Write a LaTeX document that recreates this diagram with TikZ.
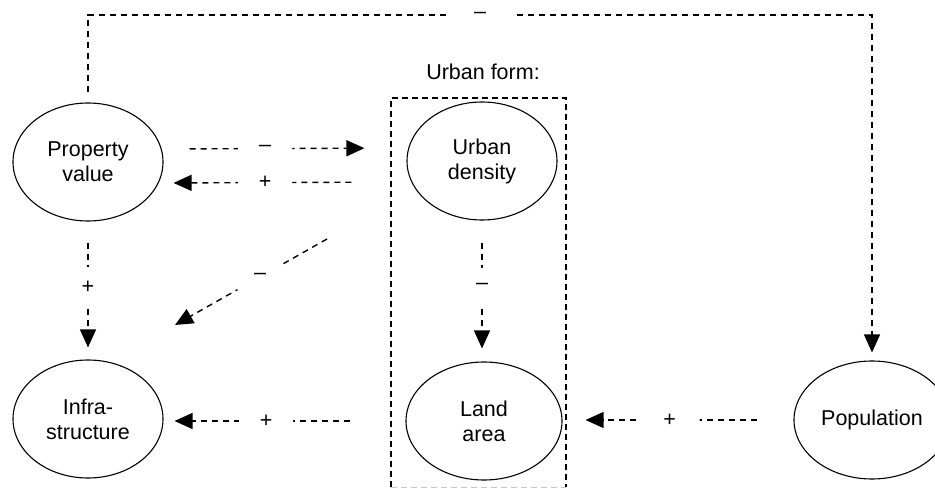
\documentclass[tikz,border=0pt]{standalone}
\usepackage{fontspec}
\setmainfont{Liberation Sans}
\usetikzlibrary{shapes.geometric,arrows.meta}
\begin{document}
\begin{tikzpicture}[x=1pt,y=-1pt,
  every node/.style={font=\fontsize{21.5}{25}\selectfont},
  blob/.style={ellipse, draw, line width=1.1pt, minimum width=150pt, minimum height=118pt, inner sep=0pt, align=center},
  dl/.style={line width=1.4pt, dash pattern=on 6pt off 5pt},
  arr/.style={dl, -{Triangle[length=18pt,width=16pt]}},
  gap/.style={circle, fill=white, inner sep=0pt, minimum size=#1},
  gap/.default=54pt,
  framedash/.style={line width=1.2pt, dash pattern=on 6pt off 4pt}]
\useasboundingbox (0,0) rectangle (935,489);
% nodes
\node[blob] (pv) at (88,162) {Property\\value};
\node[blob] (ud) at (482,161) {Urban\\density};
\node[blob] (inf) at (88,419) {Infra-\\structure};
\node[blob, minimum width=156pt] (la) at (484,421) {Land\\area};
\node[blob, minimum width=156pt] (pop) at (872,420) {Population};
\node (uf) at (483,72) {Urban form:};
% urban form frame
\draw[framedash] (391,487) -- (391,98) -- (566,98) -- (566,487);
\draw[framedash, gray!45, line width=0.8pt] (391,487) -- (566,487);
% top feedback line
\coordinate (topy) at (0,15);
\draw[arr, shorten <=10pt, shorten >=8pt] (pv.north) -- (pv.north |- topy) -- node[gap=66pt]{–} (pop.north |- topy) -- (pop.north);
% property value <-> urban density
\draw[arr, shorten <=26pt, shorten >=42pt] ([yshift=13pt]pv.east) -- node[gap, pos=0.418]{–} ([yshift=13pt]ud.west);
\draw[arr, shorten <=55pt, shorten >=10pt] ([yshift=-21pt]ud.west) -- node[gap, pos=0.582]{+} ([yshift=-21pt]pv.east);
% diagonal
\coordinate (dA) at (327,239);
\coordinate (dB) at (175,325);
\draw[arr] (dA) -- node[gap=52pt, pos=0.44]{–} (dB);
% verticals
\draw[arr, shorten <=21pt, shorten >=12pt] (pv.south) -- node[gap=40pt, pos=0.475]{+} (pv.south |- inf.north);
\draw[arr, shorten <=22pt, shorten >=13pt] (ud.south) -- node[gap=38pt, pos=0.47]{–} (ud.south |- la.north);
% bottom arrows
\draw[arr, shorten <=55pt, shorten >=11pt] (la.west) -- node[gap, pos=0.576]{+} (la.west -| inf.east);
\draw[arr, shorten <=36pt, shorten >=23pt] (pop.west) -- node[gap=60pt, pos=0.536]{+} (pop.west -| la.east);
\end{tikzpicture}
\end{document}
